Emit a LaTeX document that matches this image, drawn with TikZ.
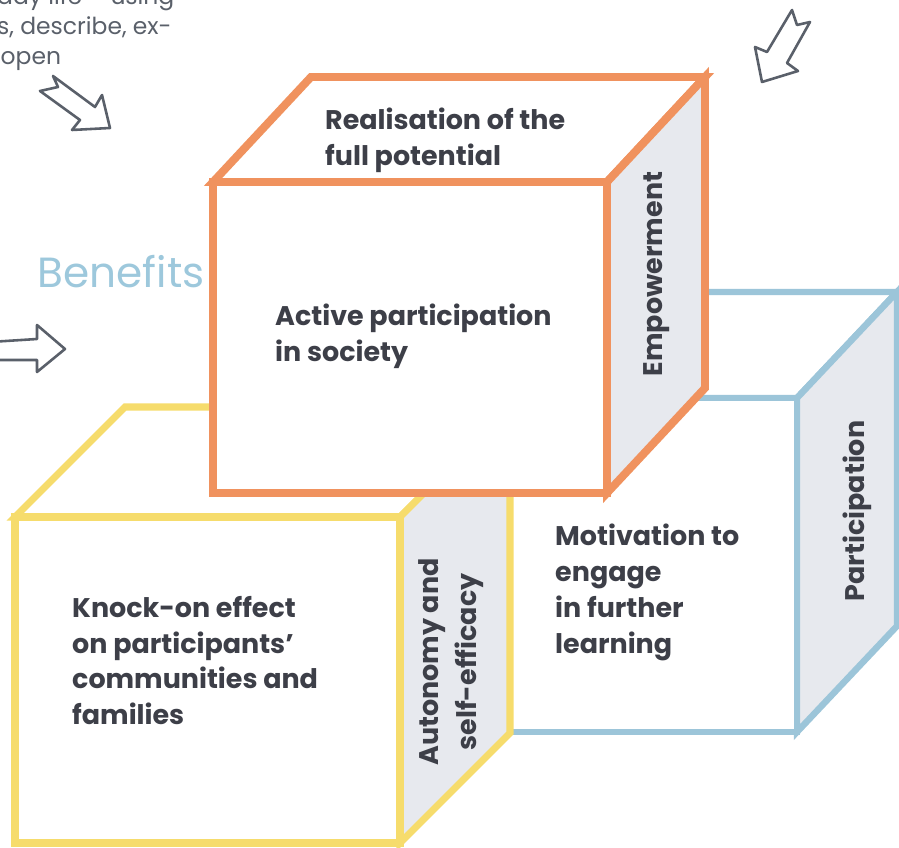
\documentclass[tikz,border=0pt]{standalone}
\usepackage{fontspec}
\setmainfont{Poppins}
\usepackage{tikz}

\definecolor{cubeorange}{HTML}{F0925E}
\definecolor{cubeyellow}{HTML}{F6DC6C}
\definecolor{cubeblue}{HTML}{9CC5D9}
\definecolor{sidegray}{HTML}{E7E9EE}
\definecolor{txtgray}{HTML}{3D3F48}
\definecolor{arrowgray}{HTML}{5A606A}
\definecolor{benefitblue}{HTML}{9DC8DC}

\begin{document}
\begin{tikzpicture}[x=0.03cm, y=0.03cm]
    \tikzstyle{every node}+=[inner sep=0pt, text=txtgray]
    \tikzstyle{cube text}=[font=\bfseries\fontsize{23}{30.5}\selectfont, align=left, anchor=north west]
    \tikzstyle{side text}=[font=\bfseries\fontsize{23}{32}\selectfont, align=center, rotate=90]
    \tikzstyle{sketch arrow}=[draw=arrowgray, line width=2.2pt, line join=round, line cap=round]
    \clip (0,0) rectangle (899,-848);
    \fill [white] (0,0) rectangle (899,-848);
    % text cut off at the top left
    \node (pagetext) [anchor=north west, align=left, text=arrowgray, font=\fontsize{20}{25.6}\selectfont] at (-3,14) {day life -- using\\s, describe, ex-\\\hspace*{3pt}open};
    % blue cube
    \draw [cubeblue, line width=5.5pt, fill=white] (470,-398) -- (570,-292) -- (897,-292) -- (797,-398) -- cycle;
    \draw [cubeblue, line width=5.5pt, fill=sidegray] (797,-398) -- (897,-292) -- (897,-626) -- (797,-732) -- cycle;
    \draw [cubeblue, line width=5.5pt, fill=white] (470,-398) rectangle (797,-732);
    % yellow cube
    \draw [cubeyellow, line width=6pt, fill=white] (15,-517) -- (125,-407) -- (510,-407) -- (400,-517) -- cycle;
    \draw [cubeyellow, line width=6pt, fill=sidegray] (400,-517) -- (510,-407) -- (510,-733) -- (400,-843) -- cycle;
    \draw [cubeyellow, line width=6pt, fill=white] (15,-517) rectangle (400,-843);
    % orange cube
    \draw [cubeorange, line width=6.8pt, fill=white] (213,-182) -- (311,-77) -- (705,-77) -- (607,-182) -- cycle;
    \draw [cubeorange, line width=6.8pt, fill=sidegray] (607,-182) -- (705,-77) -- (705,-388) -- (607,-493) -- cycle;
    \draw [cubeorange, line width=6.8pt, fill=white] (213,-182) rectangle (607,-493);
    % labels
    \node (realise) [cube text] at (325,-108) {Realisation of the\\full potential};
    \node (active) [cube text] at (275,-304) {Active participation\\in society};
    \node (knockon) [cube text] at (72,-596) {Knock-on effect\\on participants'\\communities and\\families};
    \node (motivate) [cube text] at (555,-524) {Motivation to\\engage\\in further\\learning};
    \node (empower) [side text] at (657,-274) {Empowerment};
    \node (autonomy) [side text] at (451,-662) {Autonomy and\\self-efficacy};
    \node (particip) [side text] at (857,-511) {Participation};
    \node (benefits) [font=\fontsize{36}{40}\selectfont, text=benefitblue] at (121,-272) {Benefits};
    % sketched arrows
    \draw [sketch arrow] (53,-76) -- (58,-87) -- (40,-91) -- (80,-120) -- (72,-130) -- (110,-128) -- (102,-95) -- (95,-107) -- cycle;
    \draw [sketch arrow] (792,-10) -- (797,-25) -- (810,-22) -- (787,-63) -- (798,-71) -- (762,-82) -- (755,-47) -- (767,-52) -- cycle;
    \draw [sketch arrow] (-10,-342) -- (37,-339) -- (37,-325) -- (65,-349) -- (37,-372) -- (37,-360) -- (-10,-360);
\end{tikzpicture}
\end{document}
